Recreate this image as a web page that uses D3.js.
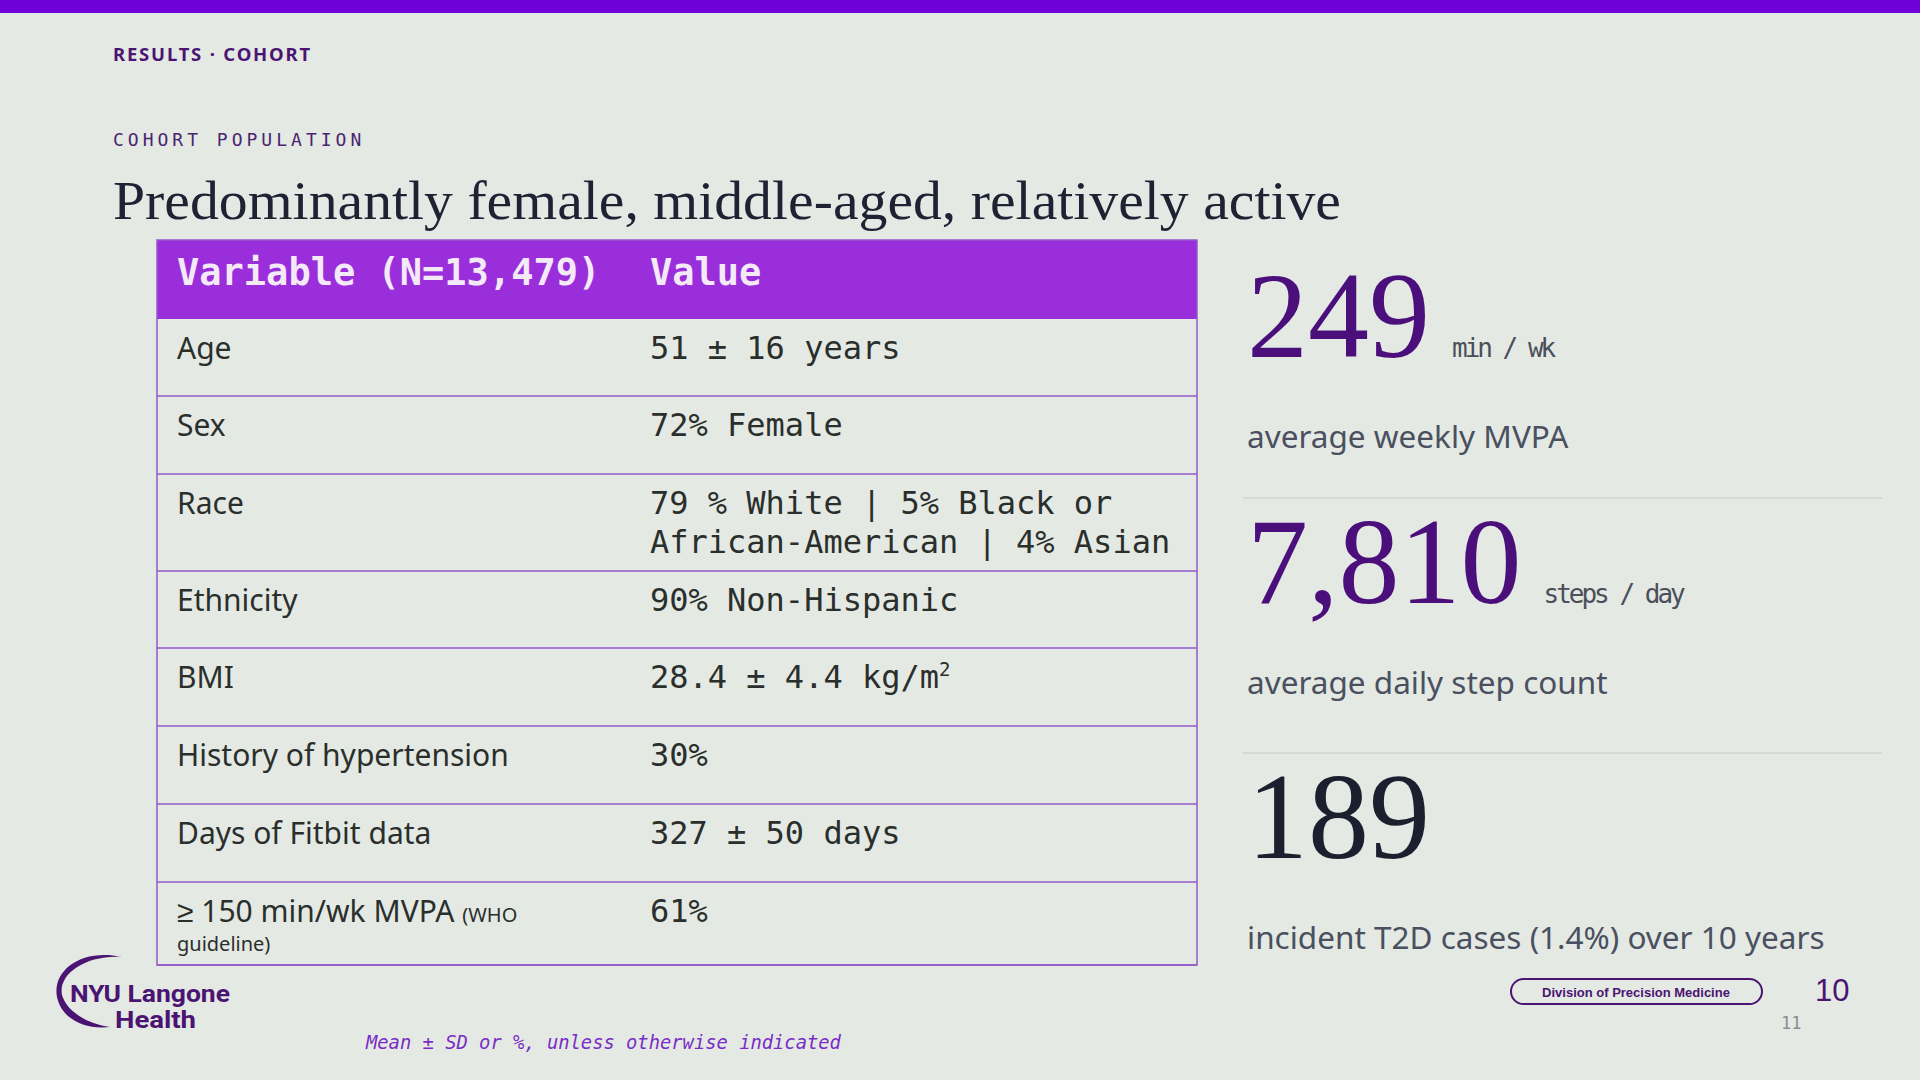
<!DOCTYPE html>
<html>
<head>
<meta charset="utf-8">
<script src="https://cdn.jsdelivr.net/npm/d3@7"></script>
<style>
  body { margin: 0; background: #e4e9e4; }
  svg { display: block; }
</style>
</head>
<body>
<svg id="drawing_region"></svg>
<script>
// table content
const headers = ["Variable (N=13,479)", "Value"];
const rowLabels = ["Age", "Sex", "Race", "Ethnicity", "BMI",
    "History of hypertension", "Days of Fitbit data", "≥ 150 min/wk MVPA"];
const rowValues = [
    ["51 ± 16 years"],
    ["72% Female"],
    ["79 % White | 5% Black or", "African-American | 4% Asian"],
    ["90% Non-Hispanic"],
    ["28.4 ± 4.4 kg/m"],
    ["30%"],
    ["327 ± 50 days"],
    ["61%"]
];

// key numbers on the right
const kpiValues = ["249", "7,810", "189"];
const kpiUnits = ["min / wk", "steps / day", ""];
const kpiCaptions = ["average weekly MVPA", "average daily step count",
    "incident T2D cases (1.4%) over 10 years"];

const width = 1920;
const height = 1080;

const purple = "#4b1472";
const dark = "#2a2f2c";

const svg = d3.select("#drawing_region")
    .attr("width", width)
    .attr("height", height);

svg.append("rect")
    .attr("width", width)
    .attr("height", height)
    .attr("fill", "#e4e9e4");

svg.append("rect")
    .attr("width", width)
    .attr("height", 13)
    .attr("fill", "#7000d8");

// heading block
svg.append("text")
    .attr("x", 113).attr("y", 61)
    .attr("font-family", "'Noto Sans', sans-serif")
    .attr("font-weight", 700)
    .attr("font-size", 18.5)
    .attr("letter-spacing", 1.8)
    .attr("fill", purple)
    .text("RESULTS · COHORT");

svg.append("text")
    .attr("x", 113).attr("y", 146)
    .attr("font-family", "'DejaVu Sans Mono', monospace")
    .attr("font-size", 18)
    .attr("letter-spacing", 4)
    .attr("fill", "#4a2570")
    .text("COHORT POPULATION");

svg.append("text")
    .attr("x", 113).attr("y", 219)
    .attr("font-family", "'Liberation Serif', serif")
    .attr("font-size", 55)
    .attr("textLength", 1228)
    .attr("lengthAdjust", "spacingAndGlyphs")
    .attr("fill", "#1f2233")
    .text("Predominantly female, middle-aged, relatively active");

// table
const tableLeft = 157, tableRight = 1197;
const headerTop = 240, headerBottom = 319;
const rowHeights = [77, 78, 97, 77, 78, 78, 78, 83];
const rowTops = d3.cumsum([headerBottom].concat(rowHeights)).slice(0, -1);
const tableBottom = headerBottom + d3.sum(rowHeights);

const colX = d3.scaleOrdinal()
    .domain(headers)
    .range([177, 650]);

svg.append("rect")
    .attr("x", tableLeft).attr("y", headerTop)
    .attr("width", tableRight - tableLeft)
    .attr("height", headerBottom - headerTop)
    .attr("fill", "#9b2edb");

svg.selectAll("text.head")
    .data(headers)
    .enter()
    .append("text")
    .attr("class", "head")
    .attr("x", d => colX(d))
    .attr("y", 285)
    .attr("font-family", "'DejaVu Sans Mono', monospace")
    .attr("font-weight", 700)
    .attr("font-size", 37)
    .attr("fill", "#f3e9f7")
    .text(d => d);

const rows = svg.selectAll("g.row")
    .data(rowLabels)
    .enter()
    .append("g")
    .attr("class", "row")
    .attr("transform", (d, i) => `translate(0,${rowTops[i]})`);

rows.append("line")
    .attr("x1", tableLeft).attr("x2", tableRight)
    .attr("y1", (d, i) => rowHeights[i]).attr("y2", (d, i) => rowHeights[i])
    .attr("stroke", "#9358c9")
    .attr("stroke-width", 1.5);

rows.filter((d, i) => i < rowLabels.length - 1)
    .append("text")
    .attr("x", colX(headers[0]))
    .attr("y", 40)
    .attr("font-family", "'Noto Sans', sans-serif")
    .attr("font-size", 30)
    .attr("fill", dark)
    .text(d => d);

// last label has a smaller note that wraps
const lastRow = rows.filter((d, i) => i === rowLabels.length - 1);
const lastLabel = lastRow.append("text")
    .attr("x", colX(headers[0]))
    .attr("y", 40)
    .attr("font-family", "'Noto Sans', sans-serif")
    .attr("fill", dark);
lastLabel.append("tspan").attr("font-size", 30).text(d => d + " ");
lastLabel.append("tspan").attr("font-size", 20).text("(WHO");
lastRow.append("text")
    .attr("x", colX(headers[0]))
    .attr("y", 69)
    .attr("font-family", "'Noto Sans', sans-serif")
    .attr("font-size", 20)
    .attr("fill", dark)
    .text("guideline)");

rows.each(function(d, i) {
    const t = d3.select(this).append("text")
        .attr("font-family", "'DejaVu Sans Mono', monospace")
        .attr("font-size", 32)
        .attr("fill", dark);
    t.selectAll("tspan")
        .data(rowValues[i])
        .enter()
        .append("tspan")
        .attr("x", colX(headers[1]))
        .attr("y", (v, j) => 40 + j * 39)
        .text(v => v);
    if (d === "BMI") {
        t.append("tspan")
            .attr("font-size", 19)
            .attr("dy", -12)
            .text("2");
    }
});

svg.append("rect")
    .attr("x", tableLeft).attr("y", headerTop)
    .attr("width", tableRight - tableLeft)
    .attr("height", tableBottom - headerTop)
    .attr("fill", "none")
    .attr("stroke", "#9358c9")
    .attr("stroke-width", 1.5);

// KPIs
const kpiX = 1247;
const kpiY = [357, 603, 858];
const kpiColors = ["#4b0f7c", "#4b0f7c", "#1c1f2e"];

const kpi = svg.selectAll("g.kpi")
    .data(kpiValues)
    .enter()
    .append("g")
    .attr("class", "kpi")
    .attr("transform", (d, i) => `translate(${kpiX},${kpiY[i]})`);

kpi.append("text")
    .attr("class", "big")
    .attr("font-family", "'Liberation Serif', serif")
    .attr("font-size", 122)
    .attr("fill", (d, i) => kpiColors[i])
    .text(d => d);

kpi.each(function(d, i) {
    const g = d3.select(this);
    const w = g.select("text.big").node().getComputedTextLength();
    g.append("text")
        .attr("x", w + 22)
        .attr("y", 0)
        .attr("font-family", "'DejaVu Sans Mono', monospace")
        .attr("font-size", 26)
        .attr("letter-spacing", -3)
        .attr("fill", "#4a4f5a")
        .text(kpiUnits[i]);
});

kpi.append("text")
    .attr("y", 91)
    .attr("font-family", "'Noto Sans', sans-serif")
    .attr("font-size", 31.5)
    .attr("fill", "#4a5060")
    .text((d, i) => kpiCaptions[i]);

svg.selectAll("line.sep")
    .data(kpiY.slice(1))
    .enter()
    .append("line")
    .attr("class", "sep")
    .attr("x1", 1243).attr("x2", 1882)
    .attr("y1", d => d - 105).attr("y2", d => d - 105)
    .attr("stroke", "#c6cbc7")
    .attr("stroke-width", 1.2);

// logo
svg.append("path")
    .attr("d", "M122 957 C82 948 52 970 57 997 C61 1017 82 1030 110 1027 C88 1024 67 1012 62 995 C58 975 84 955 122 957 Z")
    .attr("fill", purple);
svg.append("text")
    .attr("x", 70).attr("y", 1002)
    .attr("font-family", "'Liberation Sans Narrow', 'Roboto', sans-serif")
    .attr("font-weight", 700)
    .attr("font-size", 24)
    .attr("textLength", 160)
    .attr("lengthAdjust", "spacingAndGlyphs")
    .attr("fill", purple)
    .text("NYU Langone");
svg.append("text")
    .attr("x", 115).attr("y", 1028)
    .attr("font-family", "'Liberation Sans Narrow', 'Roboto', sans-serif")
    .attr("font-weight", 700)
    .attr("font-size", 24)
    .attr("textLength", 81)
    .attr("lengthAdjust", "spacingAndGlyphs")
    .attr("fill", purple)
    .text("Health");

svg.append("text")
    .attr("x", 366).attr("y", 1049)
    .attr("font-family", "'DejaVu Sans Mono', monospace")
    .attr("font-style", "italic")
    .attr("font-size", 18.8)
    .attr("fill", "#7a2cc6")
    .text("Mean ± SD or %, unless otherwise indicated");

// footer badge and page numbers
svg.append("rect")
    .attr("x", 1511).attr("y", 979)
    .attr("width", 251).attr("height", 25)
    .attr("rx", 12.5)
    .attr("fill", "none")
    .attr("stroke", purple)
    .attr("stroke-width", 2);
svg.append("text")
    .attr("x", 1636).attr("y", 997)
    .attr("text-anchor", "middle")
    .attr("font-family", "'Liberation Sans', Arial, sans-serif")
    .attr("font-weight", 700)
    .attr("font-size", 13)
    .attr("fill", purple)
    .text("Division of Precision Medicine");

svg.append("text")
    .attr("x", 1815).attr("y", 1001)
    .attr("font-family", "'Liberation Sans', Arial, sans-serif")
    .attr("font-size", 31)
    .attr("fill", purple)
    .text("10");

svg.append("text")
    .attr("x", 1781).attr("y", 1029)
    .attr("font-family", "'DejaVu Sans Mono', monospace")
    .attr("font-size", 17)
    .attr("fill", "#8a8f94")
    .text("11");
</script>
</body>
</html>
